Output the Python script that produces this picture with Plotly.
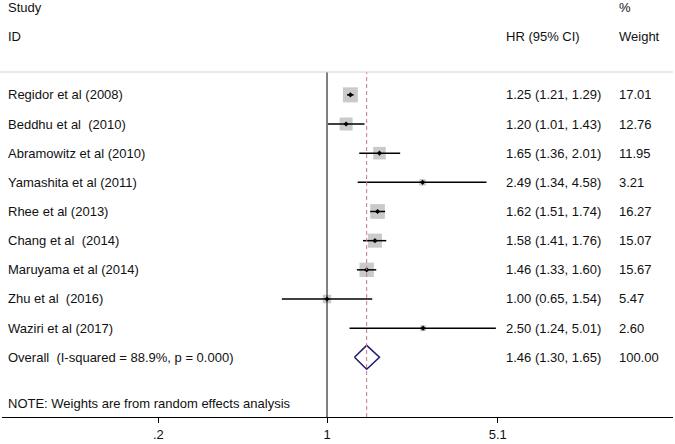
import numpy as np
import plotly.graph_objects as go

# study-level hazard ratios
studies = ["Regidor et al (2008)", "Beddhu et al\u00a0 (2010)", "Abramowitz et al (2010)",
           "Yamashita et al (2011)", "Rhee et al (2013)", "Chang et al\u00a0 (2014)",
           "Maruyama et al (2014)", "Zhu et al\u00a0 (2016)", "Waziri et al (2017)"]
hr = [1.25, 1.20, 1.65, 2.49, 1.62, 1.58, 1.46, 1.00, 2.50]
ci_low = [1.21, 1.01, 1.36, 1.34, 1.51, 1.41, 1.33, 0.65, 1.24]
ci_high = [1.29, 1.43, 2.01, 4.58, 1.74, 1.76, 1.60, 1.54, 5.01]
weights = [17.01, 12.76, 11.95, 3.21, 16.27, 15.07, 15.67, 5.47, 2.60]

overall_label = "Overall\u00a0 (I-squared = 88.9%, p = 0.000)"
overall_hr, overall_low, overall_high, overall_weight = 1.46, 1.30, 1.65, 100.00

tick_vals = [0.2, 1, 5.1]
tick_text = [".2", "1", "5.1"]

FONT = "Liberation Sans, Arial, sans-serif"
n = len(studies)
rows = list(range(1, n + 1))
overall_row = n + 1

fig = go.Figure()

# weight boxes (area proportional to weight)
box_size = [15 * np.sqrt(w / max(weights)) for w in weights]
fig.add_trace(go.Scatter(x=hr, y=rows, mode="markers",
                         marker=dict(symbol="square", size=box_size, color="#b4b4b4",
                                     line=dict(width=0)),
                         hoverinfo="skip"))

# confidence interval lines
cx, cy = [], []
for r, lo, hi in zip(rows, ci_low, ci_high):
    cx += [lo, hi, None]
    cy += [r, r, None]
fig.add_trace(go.Scatter(x=cx, y=cy, mode="lines", line=dict(color="black", width=1.5),
                         hoverinfo="skip"))

# point estimates
fig.add_trace(go.Scatter(x=hr, y=rows, mode="markers",
                         marker=dict(symbol="diamond", size=4, color="black"),
                         hoverinfo="skip"))

# overall diamond
h = 0.41
fig.add_trace(go.Scatter(x=[overall_low, overall_hr, overall_high, overall_hr, overall_low],
                         y=[overall_row, overall_row - h, overall_row, overall_row + h, overall_row],
                         mode="lines", line=dict(color="#1c1c6c", width=1.5),
                         hoverinfo="skip"))

# reference line at 1 and dashed line at overall estimate
fig.add_shape(type="line", x0=1, x1=1, y0=0, y1=1, yref="paper",
              line=dict(color="black", width=1))
fig.add_shape(type="line", x0=overall_hr, x1=overall_hr, y0=0, y1=1, yref="paper",
              line=dict(color="#c4788a", width=1, dash="4px,3px"))
# thin header separator
fig.add_shape(type="line", x0=-0.003, x1=1, xref="paper", y0=1, y1=1, yref="paper",
              line=dict(color="#d2d2d2", width=1))

ann = []
def txt(x, y, s, yref="y"):
    ann.append(dict(x=x, y=y, xref="paper", yref=yref, text=s, showarrow=False,
                    xanchor="left", yanchor="middle",
                    font=dict(family=FONT, size=13, color="#111111")))

x_name, x_hr, x_w = 0.006, 0.7475, 0.9165
# headers (above plot area, paper coords)
txt(x_name, 1.187, "Study", "paper")
txt(x_name, 1.104, "ID", "paper")
txt(x_hr, 1.104, "HR (95% CI)", "paper")
txt(x_w, 1.187, "%", "paper")
txt(x_w, 1.104, "Weight", "paper")

for r, s, e, lo, hi, w in zip(rows, studies, hr, ci_low, ci_high, weights):
    txt(x_name, r, s)
    txt(x_hr, r, f"{e:.2f} ({lo:.2f}, {hi:.2f})")
    txt(x_w, r, f"{w:.2f}")
txt(x_name, overall_row, overall_label)
txt(x_hr, overall_row, f"{overall_hr:.2f} ({overall_low:.2f}, {overall_high:.2f})")
txt(x_w, overall_row, f"{overall_weight:.2f}")
txt(x_name, overall_row + 1.57, "NOTE: Weights are from random effects analysis")

fig.update_layout(
    width=675, height=444,
    margin=dict(l=2, r=2, t=72, b=25),
    plot_bgcolor="white", paper_bgcolor="white",
    showlegend=False,
    annotations=ann,
    font=dict(family=FONT, size=13, color="#111111"),
    xaxis=dict(type="log", range=[-1.3469, 1.4339], tickvals=tick_vals, ticktext=tick_text,
               ticks="outside", ticklen=5, tickcolor="black", showline=True,
               linecolor="black", linewidth=1, showgrid=False, zeroline=False,
               tickfont=dict(family=FONT, size=13, color="#111111")),
    yaxis=dict(range=[12.047, 0.216], visible=False, showgrid=False, zeroline=False),
)

# the page body has a default 8px margin; drop it so the figure fills the window
fig.write_html("out.html", config={"displayModeBar": False},
               post_script="document.body.style.margin = '0px';")
